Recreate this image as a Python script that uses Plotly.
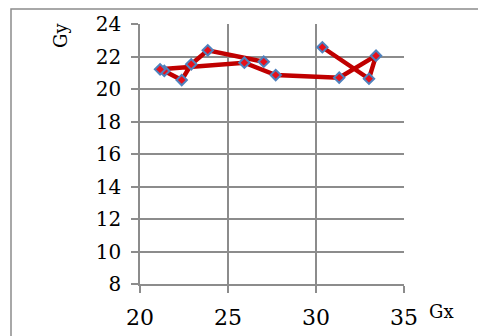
import plotly.graph_objects as go

gx = [27.03, 23.85, 22.91, 22.37, 21.38, 21.14, 25.93, 27.71, 31.32, 33.41, 33.01, 30.36]
gy = [21.68, 22.38, 21.52, 20.55, 21.11, 21.21, 21.62, 20.86, 20.70, 22.05, 20.63, 22.57]

x_ticks = [20, 25, 30, 35]
y_ticks = [8, 10, 12, 14, 16, 18, 20, 22, 24]

grid = "#8c8c8c"
font_family = "DejaVu Serif"

# page body has an 8px margin; figure drawn at (8, 8)
W, H = 478, 328
L, T = 132, 16
PW, PH = 264, 260


def px(x):
    return (x - 8 - L) / PW


def py(y):
    return (T + PH - (y - 8)) / PH


fig = go.Figure()
fig.add_trace(go.Scatter(
    x=gx, y=gy, mode="lines+markers",
    line=dict(color="#c00000", width=4.5),
    marker=dict(symbol="diamond", size=8, color="#e8101a",
                line=dict(color="#4f81bd", width=2)),
    showlegend=False,
))

fig.update_layout(
    width=W, height=H,
    margin=dict(l=L, r=W - L - PW, t=T, b=H - T - PH, autoexpand=False),
    paper_bgcolor="white", plot_bgcolor="white",
    font=dict(family=font_family, color="black"),
    xaxis=dict(range=[20, 35], tickvals=x_ticks, ticktext=[str(v) for v in x_ticks],
               showgrid=True, gridcolor=grid, gridwidth=1.5,
               showline=True, linecolor=grid, linewidth=1.5,
               ticks="outside", ticklen=7, tickcolor=grid, tickwidth=1.5,
               tickfont=dict(size=22, family=font_family), ticklabelstandoff=6,
               zeroline=False, fixedrange=True, automargin=False),
    yaxis=dict(range=[8, 24], tickvals=y_ticks, ticktext=[str(v) for v in y_ticks],
               showgrid=True, gridcolor=grid, gridwidth=1.5,
               showline=True, linecolor=grid, linewidth=1.5,
               ticks="outside", ticklen=7, tickcolor=grid, tickwidth=1.5,
               tickfont=dict(size=20, family=font_family), ticklabelstandoff=6,
               zeroline=False, fixedrange=True, automargin=False),
    shapes=[dict(type="rect", xref="paper", yref="paper",
                 x0=px(11), x1=px(482),
                 y0=py(345), y1=py(9),
                 line=dict(color="#8c8c8c", width=1.5), layer="below")],
    annotations=[
        dict(text="Gy", xref="paper", yref="paper",
             x=px(61), y=py(36), showarrow=False,
             textangle=-90, font=dict(size=18, family=font_family),
             xanchor="center", yanchor="middle"),
        dict(text="Gx", xref="paper", yref="paper",
             x=px(441), y=py(311), showarrow=False,
             font=dict(size=18, family=font_family),
             xanchor="center", yanchor="middle"),
    ],
)

fig.write_html("out.html")
